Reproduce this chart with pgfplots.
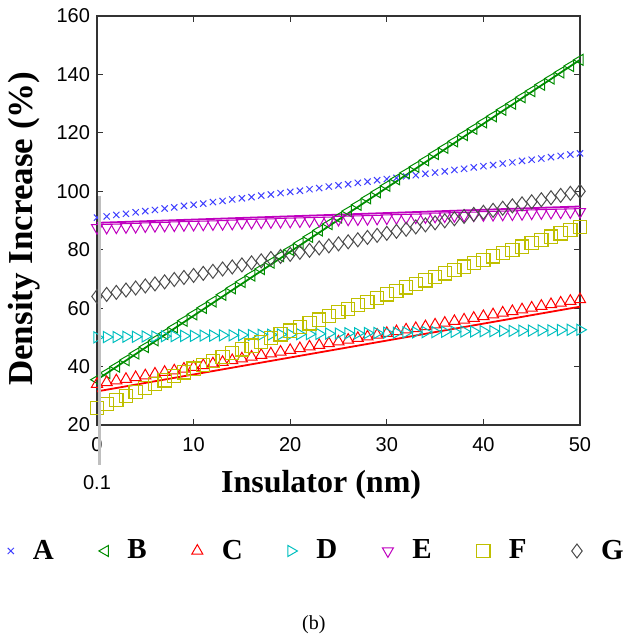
\documentclass[border=0pt]{standalone}
\usepackage{fontspec}
\setmainfont{Liberation Serif}
\newfontfamily\arialf{Liberation Sans}
\usepackage{pgfplots}
\usepackage{pgfplotstable}
\pgfplotsset{compat=1.18}

\definecolor{mA}{rgb}{0.25,0.25,1}
\definecolor{mB}{rgb}{0,0.55,0}
\definecolor{mC}{rgb}{1,0,0}
\definecolor{mD}{rgb}{0,0.75,0.75}
\definecolor{mE}{rgb}{0.75,0,0.75}
\definecolor{mF}{rgb}{0.75,0.75,0}
\definecolor{mG}{rgb}{0.3,0.3,0.3}

% density increase (%) vs insulator thickness (nm)
\pgfplotstableread{
x  A      B      C     D     E     F     G
0  91.0   35.5   34.0  50.0  87.5  25.8  64.0
1  91.4   37.8   34.6  50.1  87.6  27.2  64.7
2  91.9   40.0   35.2  50.1  87.7  28.6  65.4
3  92.3   42.2   35.7  50.2  87.8  29.9  66.2
4  92.8   44.5   36.3  50.2  87.9  31.3  66.9
5  93.2   46.7   36.9  50.3  88.1  32.6  67.6
6  93.6   49.0   37.5  50.3  88.2  34.0  68.3
7  94.1   51.2   38.1  50.4  88.3  35.3  69.0
8  94.5   53.4   38.6  50.4  88.4  36.7  69.8
9  95.0   55.7   39.2  50.5  88.5  38.0  70.5
10 95.4   57.9   39.8  50.5  88.6  39.3  71.2
11 95.8   60.1   40.4  50.6  88.7  40.6  71.9
12 96.3   62.3   41.0  50.6  88.8  42.0  72.6
13 96.7   64.6   41.5  50.7  88.9  43.3  73.4
14 97.2   66.8   42.1  50.7  89.0  44.6  74.1
15 97.6   69.0   42.7  50.8  89.2  45.9  74.8
16 98.0   71.2   43.3  50.8  89.3  47.2  75.5
17 98.5   73.4   43.9  50.9  89.4  48.5  76.2
18 98.9   75.6   44.4  50.9  89.5  49.7  77.0
19 99.4   77.8   45.0  51.0  89.6  51.0  77.7
20 99.8   80.0   45.6  51.0  89.7  52.3  78.4
21 100.2  82.2   46.2  51.1  89.8  53.6  79.1
22 100.7  84.4   46.8  51.1  89.9  54.8  79.8
23 101.1  86.6   47.3  51.2  90.0  56.1  80.6
24 101.6  88.8   47.9  51.3  90.1  57.3  81.3
25 102.0  91.0   48.5  51.3  90.3  58.6  82.0
26 102.4  93.2   49.1  51.4  90.4  59.8  82.7
27 102.9  95.4   49.7  51.4  90.5  61.0  83.4
28 103.3  97.6   50.2  51.5  90.6  62.2  84.2
29 103.8  99.7   50.8  51.5  90.7  63.5  84.9
30 104.2  101.9  51.4  51.6  90.8  64.7  85.6
31 104.6  104.1  52.0  51.6  90.9  65.9  86.3
32 105.1  106.3  52.6  51.7  91.0  67.1  87.0
33 105.5  108.4  53.1  51.7  91.1  68.3  87.8
34 106.0  110.6  53.7  51.8  91.2  69.5  88.5
35 106.4  112.8  54.3  51.8  91.4  70.7  89.2
36 106.8  114.9  54.9  51.9  91.5  71.9  89.9
37 107.3  117.1  55.5  51.9  91.6  73.0  90.6
38 107.7  119.3  56.0  52.0  91.7  74.2  91.4
39 108.2  121.4  56.6  52.0  91.8  75.4  92.1
40 108.6  123.6  57.2  52.1  91.9  76.5  92.8
41 109.0  125.7  57.8  52.1  92.0  77.7  93.5
42 109.5  127.9  58.4  52.2  92.1  78.8  94.2
43 109.9  130.0  58.9  52.2  92.2  80.0  95.0
44 110.4  132.2  59.5  52.3  92.3  81.1  95.7
45 110.8  134.3  60.1  52.3  92.5  82.2  96.4
46 111.2  136.5  60.7  52.4  92.6  83.4  97.1
47 111.7  138.6  61.3  52.4  92.7  84.5  97.8
48 112.1  140.7  61.8  52.5  92.8  85.6  98.6
49 112.6  142.9  62.4  52.6  92.9  86.7  99.3
50 113.0  145.0  63.0  52.6  93.0  87.8  100.0
}\dens

\begin{document}
\begin{tikzpicture}
\path[use as bounding box] (-48.5pt,-105.5pt) rectangle (265.5pt,212.5pt);
\begin{axis}[
  scale only axis, width=241.5pt, height=204.5pt,
  xmin=0, xmax=50, ymin=20, ymax=160,
  xtick={0,10,...,50}, ytick={20,40,...,160},
  tick align=inside, major tick length=3pt,
  axis line style={black!80, line width=0.9pt},
  tick style={black!80, line width=0.6pt},
  tick label style={font=\arialf\fontsize{10}{12}\selectfont},
  /pgf/number format/assume math mode=true,
  xticklabel style={yshift=-2.5pt},
  xlabel={Insulator (nm)},
  ylabel={Density Increase (\%)},
  xlabel style={font=\bfseries\fontsize{16}{18}\selectfont,
    at={(axis description cs:0.464,-0.166)}, anchor=base},
  ylabel style={font=\bfseries\fontsize{17.5}{19}\selectfont,
    at={(axis description cs:-0.1325,0.48)}, anchor=base},
  clip mode=individual,
  legend columns=7,
  legend style={draw=none, fill=none, at={(0.457,-0.308)}, anchor=center,
    font=\bfseries\fontsize{14.5}{16}\selectfont,
    /tikz/every odd column/.append style={column sep=7.5pt},
    /tikz/every even column/.append style={column sep=20.5pt}},
]
% fitted lines
\addplot[forget plot, mB, line width=0.9pt] coordinates {(0,35.5) (50,145)};
\addplot[forget plot, mC, line width=0.9pt] coordinates {(0,31.5) (50,60.5)};
\addplot[forget plot, mE, line width=0.9pt] coordinates {(0,89.2) (50,94.8)};

\addplot[only marks, mA, mark=x, mark size=2.2pt, line width=0.5pt] table[x=x, y=A] {\dens};
\addlegendentry{A}
\addplot[only marks, mB, mark=triangle, mark size=3.2pt, line width=0.5pt, mark options={rotate=90}] table[x=x, y=B] {\dens};
\addlegendentry{B}
\addplot[only marks, mC, mark=triangle, mark size=3.2pt, line width=0.5pt] table[x=x, y=C] {\dens};
\addlegendentry{C}
\addplot[only marks, mD, mark=triangle, mark size=3.2pt, line width=0.5pt, mark options={rotate=-90}] table[x=x, y=D] {\dens};
\addlegendentry{D}
\addplot[only marks, mE, mark=triangle, mark size=3.2pt, line width=0.5pt, mark options={rotate=180}] table[x=x, y=E] {\dens};
\addlegendentry{E}
\addplot[only marks, mF, mark=square, mark size=3.3pt, line width=0.6pt] table[x=x, y=F] {\dens};
\addlegendentry{F}
\addplot[only marks, mG, mark=diamond, mark size=3.5pt, line width=0.5pt] table[x=x, y=G] {\dens};
\addlegendentry{G}

\draw[black!25, line width=1.5pt] ([xshift=1.5pt]axis cs:0,98.5) -- ([xshift=1.5pt]axis cs:0,6.2);
\node[font=\arialf\fontsize{10}{12}\selectfont] at (axis cs:0,0.4) {0.1};
\node[font=\fontsize{10}{12}\selectfont] at (axis description cs:0.449,-0.489) {(b)};
\end{axis}
\end{tikzpicture}
\end{document}
